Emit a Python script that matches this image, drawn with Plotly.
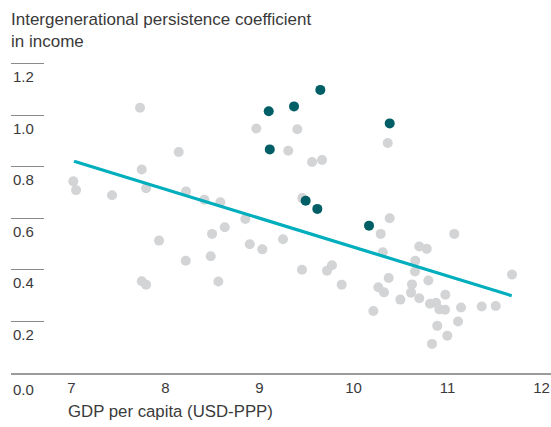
import plotly.graph_objects as go

# ---- data ----
gray_x = [7.729, 8.140, 7.747, 7.019, 7.048, 7.431, 7.793, 8.218, 8.413, 7.931,
          8.495, 8.215, 8.481, 7.747, 7.793, 8.562, 8.966, 9.402, 9.306, 9.559,
          9.665, 9.455, 8.583, 8.849, 8.630, 8.896, 9.030, 9.250, 9.452, 9.771,
          9.718, 9.874, 10.364, 10.385, 10.289, 11.072, 10.311, 10.700, 10.779, 10.657,
          10.654, 10.374, 10.796, 11.686, 10.264, 10.324, 10.622, 10.612, 10.498, 10.700,
          10.977, 10.814, 10.878, 10.913, 10.973, 11.144, 11.364, 11.513, 10.211, 11.112,
          10.891, 10.998, 10.835]
gray_y = [1.030, 0.858, 0.790, 0.744, 0.710, 0.690, 0.717, 0.705, 0.673, 0.514,
          0.540, 0.436, 0.453, 0.356, 0.343, 0.355, 0.949, 0.946, 0.863, 0.819,
          0.827, 0.679, 0.663, 0.598, 0.566, 0.500, 0.480, 0.519, 0.401, 0.418,
          0.397, 0.343, 0.893, 0.601, 0.540, 0.540, 0.469, 0.491, 0.482, 0.436,
          0.394, 0.369, 0.359, 0.382, 0.333, 0.313, 0.344, 0.312, 0.285, 0.290,
          0.304, 0.269, 0.273, 0.247, 0.246, 0.254, 0.258, 0.260, 0.241, 0.200,
          0.183, 0.145, 0.113]

dark_x = [9.098, 9.367, 9.647, 9.109, 9.491, 9.615, 10.385, 10.165]
dark_y = [1.016, 1.035, 1.099, 0.868, 0.669, 0.637, 0.969, 0.572]

trend_x = [7.027, 11.683]
trend_y = [0.822, 0.300]

x_ticks = [7, 8, 9, 10, 11, 12]
x_tick_labels = ["7", "8", "9", "10", "11", "12"]
y_ticks = [0.2, 0.4, 0.6, 0.8, 1.0, 1.2]
y_tick_labels = ["0.2", "0.4", "0.6", "0.8", "1.0", "1.2"]
zero_label = "0.0"

title_text = "Intergenerational persistence coefficient<br>in income"
x_title = "GDP per capita (USD-PPP)"

FONT = "Liberation Sans, Arial, Helvetica, sans-serif"
TXT = "#3a3a3a"

fig = go.Figure()
fig.add_trace(go.Scatter(x=gray_x, y=gray_y, mode="markers",
                         marker=dict(size=10, color="#d3d4d6"), hoverinfo="x+y"))
fig.add_trace(go.Scatter(x=trend_x, y=trend_y, mode="lines",
                         line=dict(color="#00aebd", width=3.2), hoverinfo="skip"))
fig.add_trace(go.Scatter(x=dark_x, y=dark_y, mode="markers",
                         marker=dict(size=10, color="#005f66"), hoverinfo="x+y"))

annotations = []
for v, t in zip(y_ticks, y_tick_labels):
    annotations.append(dict(xref="paper", x=0, xanchor="left", yref="y", y=v,
                            yanchor="middle", yshift=-13, text=t, showarrow=False,
                            font=dict(family=FONT, size=15, color=TXT)))
annotations.append(dict(xref="paper", x=0, xanchor="left", yref="y", y=0,
                        yanchor="middle", yshift=-16, text=zero_label, showarrow=False,
                        font=dict(family=FONT, size=15, color=TXT)))
annotations.append(dict(xref="x", x=x_ticks[0], xanchor="left", xshift=-6,
                        yref="paper", y=0, yanchor="middle", yshift=-38,
                        text=x_title, showarrow=False,
                        font=dict(family=FONT, size=16.8, color=TXT)))

fig.update_layout(
    width=551, height=427,
    margin=dict(l=11, r=0, t=55, b=54),
    paper_bgcolor="white", plot_bgcolor="white",
    showlegend=False,
    font=dict(family=FONT, size=15, color=TXT),
    title=dict(text=title_text, xref="container", x=11 / 551, xanchor="left",
               yref="container", y=1 - 25 / 427, yanchor="top",
               font=dict(family=FONT, size=17, color=TXT)),
    xaxis=dict(range=[6.356, 12.101], tickvals=x_ticks, ticktext=x_tick_labels,
               showgrid=False, zeroline=False, showline=True, linecolor="#9b9b9b",
               linewidth=2, ticks="", tickfont=dict(family=FONT, size=15, color=TXT)),
    yaxis=dict(range=[0, 1.2345], tickvals=y_ticks, showticklabels=False,
               showgrid=False, zeroline=False, showline=False,
               ticks="inside", ticklen=33, tickwidth=1.3, tickcolor="#8a8a8a"),
    annotations=annotations,
)

fig.write_html("out.html", config={"displayModeBar": False},
               post_script="document.body.style.margin='0';")
